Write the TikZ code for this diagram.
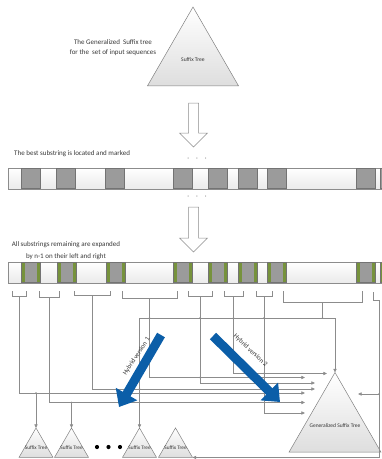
\documentclass[tikz,border=0pt]{standalone}
\usepackage{fontspec}
\setmainfont{Carlito}
\usepackage{tikz}
\usetikzlibrary{arrows.meta,shapes.geometric}
\definecolor{hybblue}{HTML}{0B5EA8}
\definecolor{lnkgray}{HTML}{8C8C8C}
\definecolor{boxgray}{HTML}{9B9B9B}
\definecolor{olivegrn}{HTML}{76923C}
\newcommand{\blockdown}[3]{\draw[draw=black!45, fill=white, line width=0.5pt]
  (#1-5,#2) -- (#1+5,#2) -- (#1+5,#3-14) -- (#1+14,#3-14) -- (#1,#3)
  -- (#1-14,#3-14) -- (#1-5,#3-14) -- cycle;}

\begin{document}
\begin{tikzpicture}[x=1pt, y=-1pt]
    \tikzset{tree/.style={regular polygon, regular polygon sides=3, draw=black!50,
                          top color=white, bottom color=black!13, line width=0.5pt,
                          inner sep=0pt, outer sep=0pt},
             bar/.style={rectangle, draw=black!45, top color=white, bottom color=black!8,
                         line width=0.5pt, minimum width=380pt, minimum height=21pt, inner sep=0pt},
             sub/.style={rectangle, draw=black!55, fill=boxgray, line width=0.5pt,
                         minimum width=19.5pt, minimum height=20pt, inner sep=0pt},
             subx/.style={sub, path picture={
                         \fill[olivegrn] (path picture bounding box.south west) rectangle ++(4pt,20pt);
                         \fill[olivegrn] (path picture bounding box.south east) rectangle ++(-4pt,20pt);}},
             link/.style={draw=lnkgray, line width=0.6pt},
             tip/.style={-{Triangle[length=3.6pt,width=3.2pt]}},
             hybrid/.style={draw=hybblue, line width=9pt, -{Triangle[length=15pt,width=24pt]}},
             txt/.style={font=\fontsize{7}{10}\selectfont, text=black!78, inner sep=0pt},
             sml/.style={font=\fontsize{5.3}{6}\selectfont, text=black!80, inner sep=0pt},
             hlbl/.style={font=\fontsize{6.6}{8}\selectfont, text=black!80, inner sep=0pt}}
    \useasboundingbox (0,0) rectangle (382,459);
    \clip (0,0) rectangle (382,459);

    \node[tree, minimum size=105pt, label={[sml, font=\fontsize{5.6}{6}\selectfont]center:Suffix Tree}] (gtop) at (193,59.5) {};
    \node[txt, align=center] (gtxt) at (113,47.5) {The Generalized\ \ Suffix tree\\for the\ \ set of input sequences};
    \blockdown{193.5}{103}{147}

    \node[txt, anchor=west] (btxt) at (14,153.5) {The best substring is located and marked};
    \node[txt, text=black!55] (dotA) at (197,159) {·\hspace{7pt}·\hspace{7pt}·};
    \node[bar, anchor=west] (barA) at (8,178.5) {};
    \foreach \x in {21,56,105,173,208,238,267,356,380}
      \node[sub] (sa\x) at (\x+9.75,178.5) {};
    \node[txt, text=black!55] (dotB) at (197,197) {·\hspace{7pt}·\hspace{7pt}·};
    \blockdown{193.5}{207}{252}

    \node[txt, align=center, font=\fontsize{7}{11.5}\selectfont] (etxt) at (66,250.5) {All substrings remaining are expanded\\by n-1 on their left and right};
    \node[bar, anchor=west] (barB) at (8,272.5) {};
    \foreach \x in {21,57,106,173,208,238,267,356,380}
      \node[subx] (sb\x) at (\x+9.75,272.5) {};

    \foreach \l/\r/\d [count=\i] in {12/26/296, 39/59/297, 74/110/295, 122/177/298,
                                     188/212/296, 224/243/296, 256/272/296, 283/362/302} {
      \draw[link] (\l,291) |- (\r,\d) -- (\r,291);
      \coordinate (b\i) at ({(\l+\r)/2},\d);
    }
    \coordinate (b9) at (373,292);
    \coordinate (rr) at (379,300);
    \coordinate (h) at (0,318);

    \node[tree, minimum size=106pt, label={[sml, font=\fontsize{5.5}{6}\selectfont]center:Generalized Suffix Tree}] (gst) at (335,425.5) {};
    \node[tree, minimum size=39.3pt, label={[sml]center:Suffix Tree}] (t1) at (36,447.6) {};
    \node[tree, minimum size=39.3pt, label={[sml]center:Suffix Tree}] (t2) at (71.5,447.6) {};
    \node[tree, minimum size=39.3pt, label={[sml]center:Suffix Tree}] (t3) at (139.5,447.6) {};
    \node[tree, minimum size=39.3pt, label={[sml]center:Suffix Tree}] (t4) at (175.5,447.6) {};
    \foreach \x in {97,108.5,120}
      \fill (\x,447) circle (2.1pt);

    \foreach \n/\x/\y in {1/305/393, 2/305/402.5, 3/315/389, 4/305/377.5, 5/315/383, 6/327/373.5, 7/305/413, 8/358/394}
      \coordinate (a\n) at (\x,\y);
    \foreach \n in {1,...,7}
      \draw[link, tip] (b\n) |- (a\n);
    \draw[link, tip] (t1.corner 1 |- a1) -- (t1.corner 1);
    \draw[link, tip] (t2.corner 1 |- a2) -- (t2.corner 1);
    \draw[link, {Triangle[length=3.6pt,width=3.2pt]}-{Triangle[length=3.6pt,width=3.2pt]}]
      (t3.corner 1) -- (t3.corner 1 |- h) -- (gst.corner 1 |- h) -- (gst.corner 1);
    \draw[link] (b8) -- (b8 |- h);
    \draw[link, tip] (b9) |- (rr) |- (t4.corner 3);
    \draw[link, tip] (rr |- a8) -- (a8);
    \foreach \p in {t1.corner 1 |- a1, t2.corner 1 |- a2, b4 |- h, b5 |- h, b6 |- h, b7 |- h, b8 |- h,
                    rr |- a8, b5 |- a4, b7 |- a4, b7 |- a6, t3.corner 1 |- a3}
      \fill[lnkgray] (\p) circle (0.9pt);

    \coordinate (hv1s) at (161,335);
    \coordinate (hv1e) at (119,407);
    \coordinate (hv2s) at (213,336);
    \coordinate (hv2e) at (280,402);
    \draw[hybrid] (hv1s) -- (hv1e);
    \draw[hybrid] (hv2s) -- (hv2e);
    \node[hlbl, rotate=57] (hl1) at (136.5,356.5) {Hybrid version 1};
    \node[hlbl, rotate=-43] (hl2) at (250.5,350.5) {Hybrid version 2};
  \end{tikzpicture}
\end{document}
